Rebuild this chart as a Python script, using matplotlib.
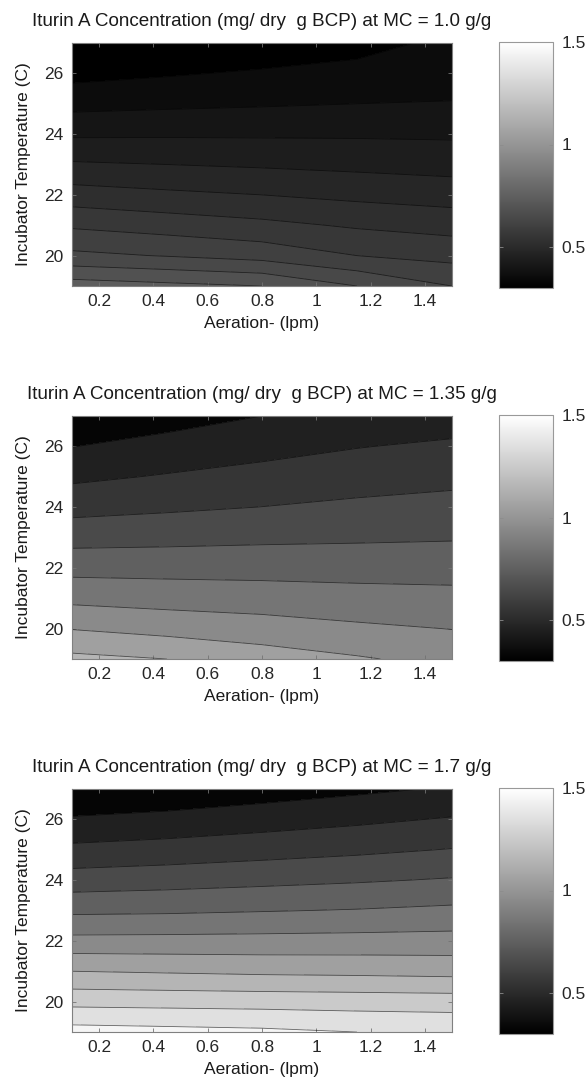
import numpy as np
import matplotlib
matplotlib.use("Agg")
import matplotlib.pyplot as plt
from matplotlib.colors import Normalize
from matplotlib.cm import ScalarMappable

plt.rcParams['font.family'] = ['Liberation Sans', 'DejaVu Sans']

# grid: rows = temperature, cols = aeration
aeration = [0.1, 0.45, 0.8, 1.15, 1.5]
temperature = [19, 20, 21, 22, 23, 24, 25, 26, 27]

conc_mc_100 = [
    [0.720, 0.710, 0.700, 0.660, 0.620],
    [0.629, 0.618, 0.605, 0.580, 0.567],
    [0.574, 0.562, 0.550, 0.535, 0.525],
    [0.518, 0.508, 0.500, 0.490, 0.482],
    [0.465, 0.460, 0.455, 0.450, 0.445],
    [0.414, 0.415, 0.415, 0.415, 0.414],
    [0.367, 0.372, 0.376, 0.380, 0.382],
    [0.327, 0.336, 0.345, 0.353, 0.362],
    [0.290, 0.300, 0.310, 0.325, 0.350],
]
conc_mc_135 = [
    [1.125, 1.100, 1.050, 1.010, 0.970],
    [0.996, 0.966, 0.944, 0.917, 0.898],
    [0.874, 0.860, 0.850, 0.838, 0.830],
    [0.767, 0.765, 0.764, 0.761, 0.760],
    [0.663, 0.671, 0.680, 0.686, 0.692],
    [0.566, 0.584, 0.601, 0.619, 0.632],
    [0.480, 0.508, 0.534, 0.557, 0.574],
    [0.398, 0.433, 0.465, 0.496, 0.518],
    [0.315, 0.360, 0.400, 0.440, 0.447],
]
conc_mc_170 = [
    [1.440, 1.430, 1.420, 1.400, 1.390],
    [1.270, 1.265, 1.260, 1.255, 1.250],
    [1.100, 1.090, 1.080, 1.075, 1.067],
    [0.929, 0.930, 0.932, 0.935, 0.938],
    [0.780, 0.785, 0.795, 0.805, 0.820],
    [0.647, 0.660, 0.675, 0.690, 0.708],
    [0.524, 0.540, 0.560, 0.580, 0.604],
    [0.411, 0.430, 0.455, 0.480, 0.508],
    [0.300, 0.320, 0.350, 0.380, 0.410],
]

levels_mc_100 = [0.25, 0.34, 0.38, 0.42, 0.46, 0.50, 0.54, 0.58, 0.62, 0.66, 0.70, 0.78]
levels_mc_135 = [0.25, 0.4, 0.5, 0.6, 0.7, 0.8, 0.9, 1.0, 1.1, 1.2]
levels_mc_170 = [0.25, 0.4, 0.5, 0.6, 0.7, 0.8, 0.9, 1.0, 1.1, 1.2, 1.3, 1.4, 1.5]

mc_labels = ['1.0', '1.35', '1.7']
panels = [conc_mc_100, conc_mc_135, conc_mc_170]
panel_levels = [levels_mc_100, levels_mc_135, levels_mc_170]

xticks = [0.2, 0.4, 0.6, 0.8, 1.0, 1.2, 1.4]
xticklabels = ['0.2', '0.4', '0.6', '0.8', '1', '1.2', '1.4']
yticks = [20, 22, 24, 26]
cbar_ticks = [0.5, 1.0, 1.5]
cbar_ticklabels = ['0.5', '1', '1.5']

W, H = 586, 1082
fig = plt.figure(figsize=(W / 100, H / 100), dpi=100)

cmap = plt.get_cmap('gray')
X, Y = np.meshgrid(aeration, temperature)

ax_left, ax_w, ax_h = 72 / W, 380 / W, 243 / H
tops_px = [43, 416, 789]

for i, (z, lv, mc) in enumerate(zip(panels, panel_levels, mc_labels)):
    # separate norm per panel so colorbars don't reset each other's labels
    norm = Normalize(vmin=0.3, vmax=1.5)
    top = 1 - tops_px[i] / H
    ax = fig.add_axes([ax_left, top - ax_h, ax_w, ax_h])
    Z = np.array(z)
    ax.contourf(X, Y, Z, levels=lv, cmap=cmap, norm=norm)
    ax.contour(X, Y, Z, levels=lv[1:-1], colors='k', linewidths=0.6, alpha=0.6)
    ax.set_xlim(0.1, 1.5)
    ax.set_ylim(19, 27)
    ax.set_xticks(xticks, labels=xticklabels)
    ax.set_yticks(yticks)
    ax.tick_params(direction='in', length=3, width=0.6, labelsize=12.5,
                   top=True, right=True, colors='0.45', labelcolor='0.15', pad=6)
    for sp in ax.spines.values():
        sp.set_color('0.5')
        sp.set_linewidth(0.8)
    ax.set_title(f'Iturin A Concentration (mg/ dry  g BCP) at MC = {mc} g/g',
                 fontsize=13.6, color='0.1', pad=12)
    ax.set_xlabel('Aeration- (lpm)', fontsize=12.5, color='0.1', labelpad=5)
    ax.set_ylabel('Incubator Temperature (C)', fontsize=12.5, color='0.1', labelpad=10)

    cax = fig.add_axes([499 / W, top - ax_h - 2 / H, 54 / W, ax_h + 3 / H])
    cb = fig.colorbar(ScalarMappable(norm=Normalize(vmin=0.3, vmax=1.5), cmap=cmap),
                      cax=cax)
    cb.set_ticks(cbar_ticks, labels=cbar_ticklabels)
    cb.outline.set_edgecolor('0.6')
    cb.outline.set_linewidth(0.8)
    cax.tick_params(direction='in', length=3, width=0.6, labelsize=12.5,
                    left=True, right=True, colors='0.55', labelcolor='0.15', pad=6)

fig.savefig('out.png', dpi=100)
